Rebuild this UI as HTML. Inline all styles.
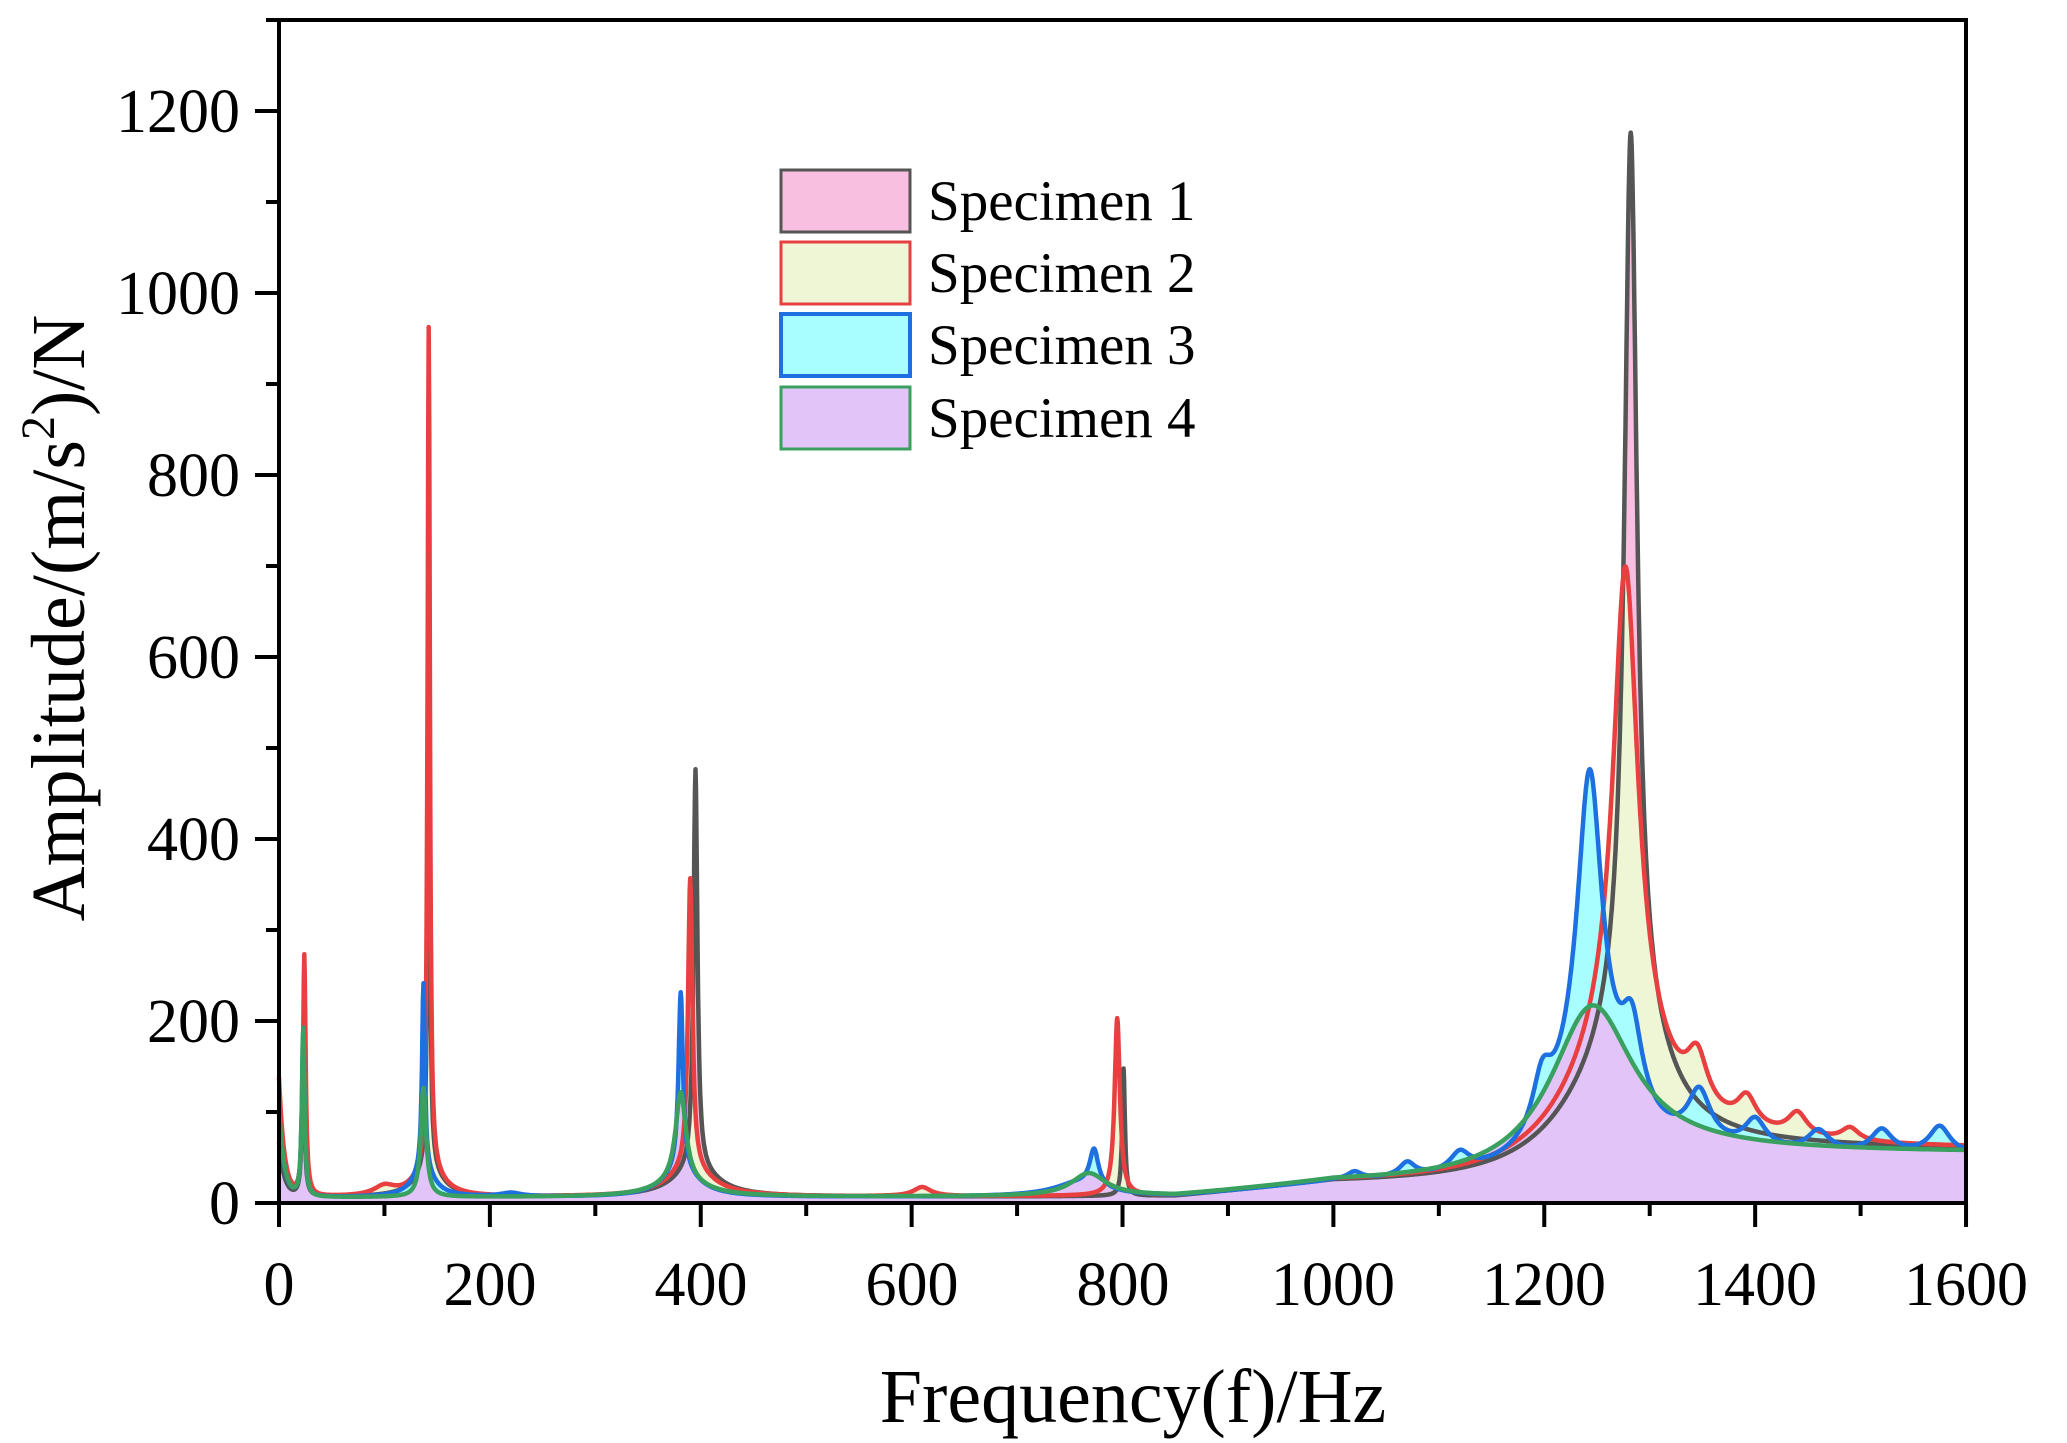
<!DOCTYPE html>
<html><head><meta charset="utf-8">
<style>
html,body{margin:0;padding:0;background:#fff;}
svg{display:block;}
text{font-family:"Liberation Serif",serif;fill:#000;}
</style></head>
<body>
<svg id="s" width="2067" height="1443" viewBox="0 0 2067 1443" xmlns="http://www.w3.org/2000/svg">
<g id="fills"></g>
<g id="lines" fill="none" stroke-linejoin="round"></g>
<rect x="279" y="20" width="1687" height="1183" fill="none" stroke="#000" stroke-width="4"/>
<g id="ticks" stroke="#000" stroke-width="4"></g>
<g font-size="62" text-anchor="middle">
<text x="279" y="1305">0</text>
<text x="490" y="1305">200</text>
<text x="701" y="1305">400</text>
<text x="912" y="1305">600</text>
<text x="1123" y="1305">800</text>
<text x="1333" y="1305">1000</text>
<text x="1544" y="1305">1200</text>
<text x="1755" y="1305">1400</text>
<text x="1966" y="1305">1600</text>
</g>
<g font-size="62" text-anchor="end">
<text x="240" y="1224">0</text>
<text x="240" y="1042">200</text>
<text x="240" y="860">400</text>
<text x="240" y="678">600</text>
<text x="240" y="496">800</text>
<text x="240" y="314">1000</text>
<text x="240" y="132">1200</text>
</g>
<text x="1133" y="1422" font-size="76" text-anchor="middle">Frequency(f)/Hz</text>
<text transform="translate(84,618) rotate(-90)" font-size="76" text-anchor="middle">Amplitude/(m/s<tspan font-size="48" dy="-30">2</tspan><tspan dy="30">)/N</tspan></text>
<rect x="781" y="170" width="129" height="62" fill="#f9bfe0" stroke="#555" stroke-width="3"/>
<rect x="781" y="242" width="129" height="62" fill="#eef6d6" stroke="#e84040" stroke-width="3"/>
<rect x="781" y="314" width="129" height="62" fill="#a8fefe" stroke="#1e6fe0" stroke-width="4"/>
<rect x="781" y="387" width="129" height="62" fill="#e2c4f8" stroke="#3aa060" stroke-width="3"/>
<g font-size="57">
<text x="928" y="220">Specimen 1</text>
<text x="928" y="292">Specimen 2</text>
<text x="928" y="364">Specimen 3</text>
<text x="928" y="437">Specimen 4</text>
</g>
</svg>
<script>
(function(){
var X=function(f){return 279+f*1.0544;};
var Y=function(a){return 1203-a*0.91;};
var ticks=document.getElementById('ticks');
var h='';
for(var f=0;f<=1600;f+=100){var x=X(f);h+='<line x1="'+x+'" y1="1203" x2="'+x+'" y2="'+(1203+(f%200==0?24:13))+'"/>';}
for(var a=0;a<=1300;a+=100){var y=Y(a);h+='<line x1="279" y1="'+y+'" x2="'+(279-(a%200==0?24:13))+'" y2="'+y+'"/>';}
ticks.innerHTML=h;
function L(f,p){var d=(f-p[0])/p[2];return p[1]/(1+d*d);}
function mk(s){return function(f){
 var v=s.low*Math.exp(-f/5)+6;
 v+=15*Math.min(1,Math.max(0,(f-850)/150));
 v+=s.tail/(1+Math.exp(-(f-1250)/40));
 for(var i=0;i<s.p.length;i++)v+=L(f,s.p[i]);
 return v;};}
var S=[
 {c:'#555555',fill:'#f9bfe0',w:4.5,low:60,tail:38,p:[[23,150,1.5],[142,580,1.3],[395,440,2.2],[395,30,25],[801,140,1.5],[1282,950,7],[1282,150,35],[142,30,15],[1245,40,60]]},
 {c:'#e84040',fill:'#eef6d6',w:4.5,low:130,tail:38,p:[[24,265,1.5],[142,925,1.3],[142,30,15],[100,10,12],[390,320,2.5],[390,30,25],[795,195,3],[610,10,10],[1277,520,14],[1277,100,45],[1245,40,60],[1345,55,12],[1392,32,11],[1440,25,11],[1490,14,10]]},
 {c:'#1e6fe0',fill:'#a8fefe',w:4.5,low:90,tail:30,p:[[23,185,1.5],[137,205,1.6],[137,30,12],[381,195,2.5],[381,30,20],[773,40,5],[760,15,30],[1243,330,14],[1243,100,40],[1283,90,12],[1198,55,11],[1347,55,13],[1400,30,12],[1460,22,12],[1520,25,12],[1575,30,12],[1070,15,9],[1120,20,11],[1020,8,8],[220,4,12]]},
 {c:'#3aa060',fill:'#e2c4f8',w:4.5,low:95,tail:34,p:[[23,185,1.5],[137,120,3],[381,100,6],[381,15,30],[768,25,20],[1245,180,48]]}
];
var fills='',lines='';
S.forEach(function(s){
 var fn=mk(s),pts=[];
 for(var f=0;f<=1600;f+=0.5){var v=Math.min(fn(f),1300);pts.push(X(f).toFixed(1)+','+Y(v).toFixed(1));}
 var d='M'+pts.join(' L');
 fills+='<path d="'+d+' L'+X(1600)+','+Y(0)+' L'+X(0)+','+Y(0)+' Z" fill="'+s.fill+'"/>';
 lines+='<path d="'+d+'" stroke="'+s.c+'" stroke-width="'+s.w+'"/>';
});
document.getElementById('fills').innerHTML=fills;
document.getElementById('lines').innerHTML=lines;
})();
</script>
</body></html>
